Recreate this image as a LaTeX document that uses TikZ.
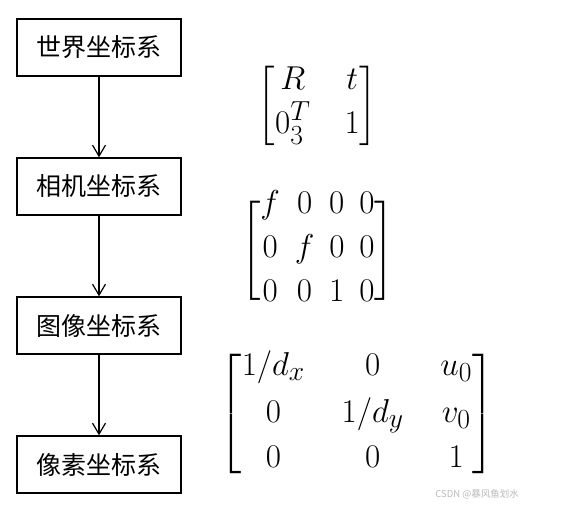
\documentclass[tikz,border=0pt]{standalone}
\usepackage{amsmath}
\usepackage{graphicx}
\usepackage{fontspec}
\newfontfamily\cjk{Noto Sans CJK SC}
\usetikzlibrary{arrows.meta}

\begin{document}
\begin{tikzpicture}[x=1pt,y=-1pt,
    frame/.style={draw,line width=1.4pt,minimum width=164pt,minimum height=57pt,
      inner sep=0pt,font=\cjk\fontsize{25}{30}\selectfont},
    flow/.style={-{Straight Barb[length=11pt,width=13pt]},line width=1.2pt}]
  \useasboundingbox (0,0) rectangle (576,505);
  \delimiterfactor=800 \delimitershortfall=40pt

  \node[frame] (world)  at (99,47.5)  {世界坐标系};
  \node[frame] (camera) at (99,186.5) {相机坐标系};
  \node[frame] (image)  at (99,325.5) {图像坐标系};
  \node[frame] (pixel)  at (99,464.5) {像素坐标系};

  \draw[flow] (world)  -- (camera);
  \draw[flow] (camera) -- (image);
  \draw[flow] (image)  -- (pixel);

  % matrices, scaled up from 24.88pt
  \node (mext) at (317.5,105.5) {\scalebox{1.33}{\fontsize{24.88}{29.86}\selectfont
    \setlength\arraycolsep{12.8pt}\renewcommand\arraystretch{0.82}%
    $\begin{bmatrix} R & t\\[2pt] 0_3^T & 1\end{bmatrix}$}};
  \node (mproj) at (317.5,251) {\scalebox{1.33}{\fontsize{24.88}{29.86}\selectfont
    \setlength\arraycolsep{5.6pt}\renewcommand\arraystretch{0.82}%
    $\begin{bmatrix} f & 0 & 0 & 0\\[8.5pt] 0 & f & 0 & 0\\[8.5pt] 0 & 0 & 1 & 0\end{bmatrix}$}};
  \node (mpix) at (357,414) {\scalebox{1.33}{\fontsize{24.88}{29.86}\selectfont
    \setlength\arraycolsep{13.8pt}\renewcommand\arraystretch{0.82}%
    $\begin{bmatrix} 1/d_x & 0 & u_0\\[9.5pt] 0 & 1/d_y & v_0\\[9.5pt] 0 & 0 & 1\end{bmatrix}$}};

  \node[anchor=east,inner sep=0pt,text=gray!55,font=\cjk\fontsize{9.5}{11}\selectfont]
    (mark) at (519,494) {CSDN @暴风鱼划水};
\end{tikzpicture}
\end{document}
